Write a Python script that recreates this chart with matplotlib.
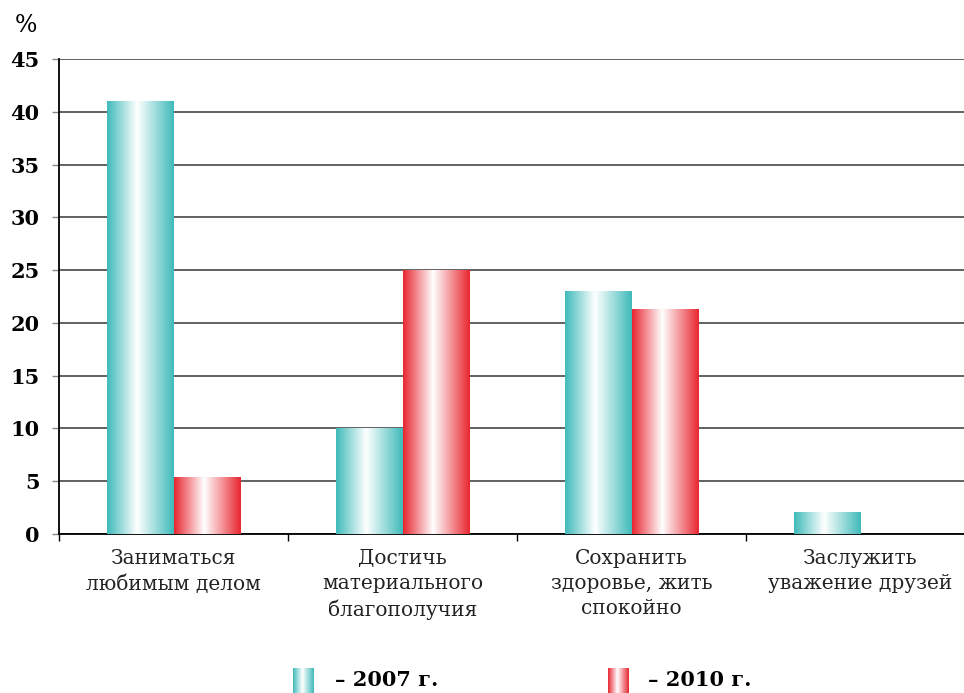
import numpy as np
import matplotlib.pyplot as plt
from matplotlib.colors import LinearSegmentedColormap

# data
categories = ['Заниматься\nлюбимым делом',
              'Достичь\nматериального\nблагополучия',
              'Сохранить\nздоровье, жить\nспокойно',
              'Заслужить\nуважение друзей']
values_2007 = [41, 10, 23, 2]
values_2010 = [5.4, 25, 21.3, 0]
series_labels = ['– 2007 г.', '– 2010 г.']
yticks = [0, 5, 10, 15, 20, 25, 30, 35, 40, 45]

plt.rcParams['font.family'] = ['DejaVu Serif', 'Liberation Serif']

cyan = '#3fbaba'
red = '#e82630'
cmaps = [LinearSegmentedColormap.from_list('c', [(0, cyan), (0.45, 'white'), (1, cyan)]),
         LinearSegmentedColormap.from_list('r', [(0, red), (0.45, 'white'), (1, red)])]
grad = np.linspace(0, 1, 256).reshape(1, -1)

W, H = 964, 693
fig = plt.figure(figsize=(W / 100, H / 100), dpi=100)
ax = fig.add_axes([59 / W, (H - 534) / H, (975 - 59) / W, 475 / H])

bw = 0.29
x = np.arange(len(categories))
for i in x:
    for k, vals in enumerate([values_2007, values_2010]):
        v = vals[i]
        if v <= 0:
            continue
        x0 = i - bw if k == 0 else i
        ax.imshow(grad, extent=[x0, x0 + bw, 0, v], aspect='auto',
                  cmap=cmaps[k], zorder=3, interpolation='bilinear')

ax.set_xlim(-0.5, len(categories) - 0.5)
ax.set_ylim(0, 45)
ax.set_yticks(yticks)
ax.set_yticklabels([str(t) for t in yticks], fontsize=15, fontweight='bold')
ax.yaxis.grid(True, color='#555555', linewidth=1.3, zorder=1)
ax.set_axisbelow(True)

ax.set_xticks(x)
ax.set_xticklabels(categories, fontsize=14.5, linespacing=1.4, color='#222222')
ax.tick_params(axis='x', which='major', length=0, pad=11)
ax.set_xticks(np.arange(-0.5, len(categories)), minor=True)
ax.tick_params(axis='x', which='minor', length=5, width=1, color='black')
ax.tick_params(axis='y', length=5, width=1, color='#888888', pad=9)

for s in ['top', 'right']:
    ax.spines[s].set_visible(False)
ax.spines['left'].set_color('black')
ax.spines['left'].set_linewidth(1.3)
ax.spines['bottom'].set_color('black')
ax.spines['bottom'].set_linewidth(1.3)

fig.text(26 / W, 1 - 25 / H, '%', fontsize=17, ha='center', va='center')

# legend
leg_x = [293, 608]
txt_x = [335, 648]
for k in range(2):
    lax = fig.add_axes([leg_x[k] / W, 0, 21 / W, (H - 668) / H])
    lax.imshow(grad, extent=[0, 1, 0, 1], aspect='auto', cmap=cmaps[k],
               interpolation='bilinear')
    lax.axis('off')
    fig.text(txt_x[k] / W, 1 - 680 / H, series_labels[k], fontsize=15,
             fontweight='bold', ha='left', va='center')

fig.savefig('out.png', dpi=100)
